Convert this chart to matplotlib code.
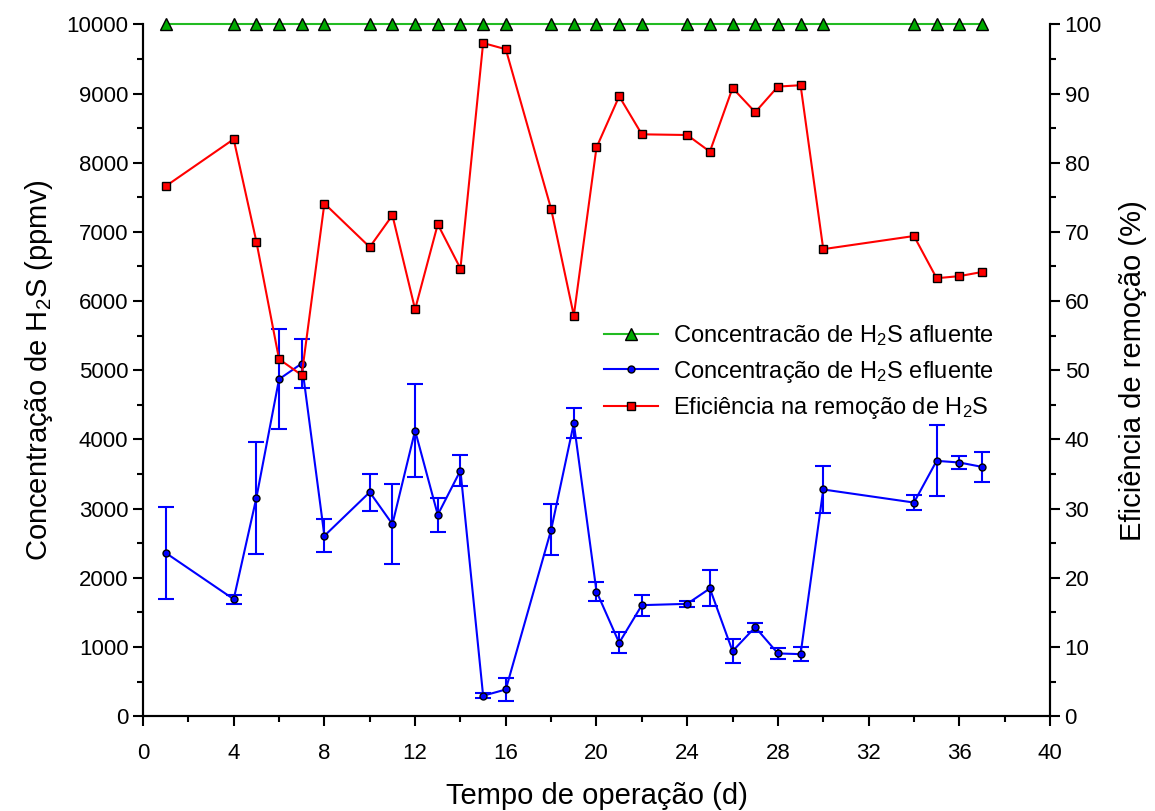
import matplotlib
matplotlib.use('Agg')
import matplotlib.pyplot as plt
from matplotlib.ticker import MultipleLocator

plt.rcParams['font.family'] = ['Liberation Sans', 'DejaVu Sans']
plt.rcParams['mathtext.default'] = 'regular'

# Data
dias = [1, 4, 5, 6, 7, 8, 10, 11, 12, 13, 14, 15, 16, 18, 19, 20, 21, 22,
        24, 25, 26, 27, 28, 29, 30, 34, 35, 36, 37]
afluente = [10000] * len(dias)
efluente = [2360, 1690, 3155, 4870, 5097, 2606, 3237, 2775, 4128, 2910, 3550,
            294, 385, 2693, 4234, 1801, 1060, 1604, 1623, 1845, 939, 1286,
            906, 896, 3276, 3087, 3690, 3666, 3603]
efluente_err = [660, 65, 810, 720, 350, 240, 270, 580, 670, 250, 225, 35, 170,
                370, 220, 135, 150, 150, 45, 260, 175, 65, 80, 105, 345, 105,
                515, 90, 220]
eficiencia = [76.6, 83.4, 68.6, 51.6, 49.3, 74.1, 67.8, 72.4, 58.8, 71.1, 64.7,
              97.3, 96.4, 73.3, 57.9, 82.2, 89.6, 84.1, 84.0, 81.6, 90.8, 87.3,
              91.0, 91.2, 67.5, 69.4, 63.3, 63.6, 64.2]

fig = plt.figure(figsize=(11.55, 8.11), dpi=100)
ax = fig.add_axes([0.1238, 0.117, 0.7853, 0.853])
ax2 = ax.twinx()

# effluent with error bars
ax.errorbar(dias, efluente, yerr=efluente_err, fmt='none', ecolor='#0000ff',
            elinewidth=1.5, capsize=6, capthick=1.5, zorder=2)
l2, = ax.plot(dias, efluente, color='#0000ff', linewidth=1.5, marker='o',
              markersize=5, markerfacecolor='#0000ff', markeredgecolor='black',
              markeredgewidth=1, label='Concentração de H$_2$S efluente', zorder=3)
l1, = ax.plot(dias, afluente, color='#22bb22', linewidth=1.5, marker='^',
              markersize=8, markerfacecolor='#00aa00', markeredgecolor='black',
              markeredgewidth=1, label='Concentracão de H$_2$S afluente',
              zorder=4, clip_on=False)
l3, = ax2.plot(dias, eficiencia, color='#ff0000', linewidth=1.5, marker='s',
               markersize=6, markerfacecolor='#ff0000', markeredgecolor='black',
               markeredgewidth=1, label='Eficiência na remoção de H$_2$S')

ax.set_xlim(0, 40)
ax.set_ylim(0, 10000)
ax2.set_ylim(0, 100)

ax.xaxis.set_major_locator(MultipleLocator(4))
ax.xaxis.set_minor_locator(MultipleLocator(2))
ax.yaxis.set_major_locator(MultipleLocator(1000))
ax.yaxis.set_minor_locator(MultipleLocator(500))
ax2.yaxis.set_major_locator(MultipleLocator(10))
ax2.yaxis.set_minor_locator(MultipleLocator(5))

for a in (ax, ax2):
    a.spines['top'].set_visible(False)
    for s in a.spines.values():
        s.set_linewidth(1.5)
    a.tick_params(which='major', direction='out', length=7, width=1.5,
                  labelsize=16)
    a.tick_params(which='minor', direction='out', length=4.5, width=1.5)
ax.tick_params(axis='x', pad=12)

ax.set_xlabel('Tempo de operação (d)', fontsize=21, labelpad=13)
ax.set_ylabel('Concentração de H$_2$S (ppmv)', fontsize=21, labelpad=8)
ax2.set_ylabel('Eficiência de remoção (%)', fontsize=21, labelpad=12)

ax2.legend(handles=[l1, l2, l3], loc='upper left',
           bbox_to_anchor=(0.495, 0.585), frameon=False, fontsize=17,
           borderpad=0, handlelength=2.3, handletextpad=0.65,
           labelspacing=0.45)

fig.savefig('out.png', dpi=100)
